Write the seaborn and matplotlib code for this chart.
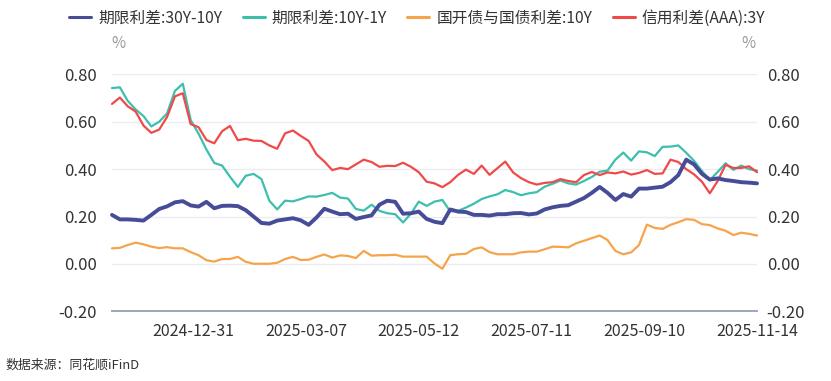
import numpy as np
import pandas as pd
import seaborn as sns
import matplotlib
matplotlib.use("Agg")
import matplotlib.pyplot as plt
from matplotlib.lines import Line2D

# ---- data (trading-day index, sampled every 3 trading days) ----
day_index = list(range(0, 247, 3))

spread_30y_10y = [
    0.207, 0.188, 0.188, 0.186, 0.183, 0.207, 0.232, 0.243, 0.260, 0.265,
    0.247, 0.242, 0.262, 0.235, 0.245, 0.246, 0.244, 0.227, 0.200, 0.173,
    0.170, 0.183, 0.188, 0.193, 0.184, 0.165, 0.196, 0.233, 0.221, 0.210,
    0.212, 0.190, 0.198, 0.205, 0.250, 0.267, 0.262, 0.212, 0.214, 0.221,
    0.190, 0.178, 0.172, 0.230, 0.221, 0.219, 0.207, 0.207, 0.204, 0.210,
    0.210, 0.214, 0.215, 0.209, 0.213, 0.230, 0.239, 0.245, 0.248, 0.263,
    0.278, 0.300, 0.325, 0.300, 0.270, 0.295, 0.284, 0.318, 0.318, 0.322,
    0.326, 0.345, 0.375, 0.440, 0.420, 0.380, 0.356, 0.361, 0.354, 0.350,
    0.345, 0.343, 0.340,
]

spread_10y_1y = [
    0.742, 0.745, 0.688, 0.652, 0.624, 0.580, 0.600, 0.635, 0.730, 0.760,
    0.607, 0.550, 0.483, 0.426, 0.415, 0.368, 0.325, 0.372, 0.380, 0.358,
    0.267, 0.230, 0.267, 0.264, 0.274, 0.285, 0.284, 0.291, 0.300, 0.280,
    0.276, 0.232, 0.225, 0.250, 0.224, 0.214, 0.210, 0.175, 0.212, 0.263,
    0.245, 0.263, 0.270, 0.222, 0.224, 0.238, 0.254, 0.274, 0.285, 0.294,
    0.312, 0.303, 0.290, 0.298, 0.303, 0.326, 0.338, 0.352, 0.340, 0.335,
    0.350, 0.367, 0.389, 0.394, 0.440, 0.470, 0.436, 0.475, 0.471, 0.455,
    0.494, 0.495, 0.500, 0.469, 0.435, 0.392, 0.354, 0.388, 0.425, 0.397,
    0.415, 0.400, 0.394,
]

cdb_vs_gov_10y = [
    0.066, 0.068, 0.080, 0.090, 0.083, 0.073, 0.067, 0.071, 0.066, 0.066,
    0.050, 0.037, 0.016, 0.010, 0.021, 0.021, 0.030, 0.009, 0.001, 0.001,
    0.001, 0.005, 0.021, 0.030, 0.017, 0.018, 0.030, 0.040, 0.027, 0.036,
    0.034, 0.025, 0.055, 0.035, 0.037, 0.037, 0.039, 0.031, 0.031, 0.031,
    0.031, 0.002, -0.020, 0.037, 0.041, 0.043, 0.063, 0.070, 0.050, 0.041,
    0.041, 0.041, 0.049, 0.052, 0.052, 0.062, 0.073, 0.072, 0.070, 0.087,
    0.098, 0.109, 0.120, 0.101, 0.055, 0.041, 0.049, 0.080, 0.166, 0.152,
    0.148, 0.165, 0.176, 0.189, 0.186, 0.168, 0.164, 0.150, 0.140, 0.122,
    0.132, 0.127, 0.120,
]

credit_aaa_3y = [
    0.675, 0.702, 0.665, 0.643, 0.584, 0.553, 0.567, 0.620, 0.707, 0.720,
    0.590, 0.577, 0.523, 0.509, 0.560, 0.582, 0.522, 0.528, 0.520, 0.519,
    0.500, 0.486, 0.551, 0.563, 0.540, 0.519, 0.462, 0.432, 0.396, 0.405,
    0.400, 0.420, 0.440, 0.430, 0.410, 0.414, 0.413, 0.427, 0.410, 0.387,
    0.347, 0.340, 0.324, 0.345, 0.376, 0.398, 0.380, 0.415, 0.376, 0.404,
    0.432, 0.386, 0.362, 0.345, 0.335, 0.342, 0.345, 0.358, 0.350, 0.345,
    0.375, 0.388, 0.375, 0.386, 0.382, 0.390, 0.377, 0.384, 0.396, 0.380,
    0.382, 0.440, 0.430, 0.400, 0.378, 0.347, 0.298, 0.350, 0.418, 0.405,
    0.405, 0.412, 0.387,
]

tick_days = [31, 74, 117, 160, 203, 246]
tick_labels = ["2024-12-31", "2025-03-07", "2025-05-12", "2025-07-11", "2025-09-10", "2025-11-14"]
y_ticks = [-0.2, 0.0, 0.2, 0.4, 0.6, 0.8]

series_names = ["期限利差:30Y-10Y", "期限利差:10Y-1Y", "国开债与国债利差:10Y", "信用利差(AAA):3Y"]
series_values = [spread_30y_10y, spread_10y_1y, cdb_vs_gov_10y, credit_aaa_3y]
series_colors = ["#474c99", "#3dbfae", "#f6a44c", "#ef4a4a"]
series_widths = [2.8, 1.6, 1.6, 1.6]

# ---- style ----
sns.set_theme(style="white")
plt.rcParams["font.family"] = ["Noto Sans CJK SC", "DejaVu Sans"]
plt.rcParams["axes.unicode_minus"] = False

fig = plt.figure(figsize=(8.31, 3.81), dpi=100)
ax = fig.add_axes([112 / 831, 1 - 311.4 / 381, (757 - 112) / 831, (311.4 - 74.3) / 381])

df = pd.DataFrame({"day": day_index})
for name, vals in zip(series_names, series_values):
    df[name] = vals

# draw order: orange, teal, red, navy on top
order = [2, 1, 3, 0]
for i in order:
    sns.lineplot(data=df, x="day", y=series_names[i], ax=ax, color=series_colors[i],
                 linewidth=series_widths[i], clip_on=False, zorder=3 + (i == 0))

ax.set_xlim(0, 246)
ax.set_ylim(-0.2, 0.8)
ax.set_yticks(y_ticks)
ax.set_yticklabels([f"{v:.2f}" for v in y_ticks])
ax.set_xticks(tick_days)
ax.set_xticklabels(tick_labels)
ax.set_xlabel("")
ax.set_ylabel("")
for y in y_ticks[1:]:
    ax.axhline(y, color="#ebebf3", linewidth=1.0, zorder=1)
for s in ["top", "right", "left"]:
    ax.spines[s].set_visible(False)
ax.spines["bottom"].set_color("#9aa6bd")
ax.spines["bottom"].set_linewidth(1.4)
ax.tick_params(axis="y", length=0, labelsize=12, colors="#333333", pad=11)
ax.tick_params(axis="x", length=0, labelsize=11.5, colors="#333333", pad=8)

ax2 = ax.twinx()
ax2.set_ylim(-0.2, 0.8)
ax2.set_yticks(y_ticks)
ax2.set_yticklabels([f"{v:.2f}" for v in y_ticks])
for s in ["top", "right", "left", "bottom"]:
    ax2.spines[s].set_visible(False)
ax2.tick_params(axis="y", length=0, labelsize=12, colors="#333333", pad=7)
ax2.grid(False)

fig.text(118 / 831, 1 - 43 / 381, "%", fontsize=11, color="#999999", ha="center", va="center")
fig.text(748 / 831, 1 - 43 / 381, "%", fontsize=11, color="#999999", ha="center", va="center")

handles = [Line2D([0], [0], color=series_colors[i], linewidth=2.2) for i in range(4)]
fig.legend(handles, series_names, loc="center", bbox_to_anchor=(0.502, 1 - 18 / 381), ncol=4,
           frameon=False, fontsize=11.3, handlelength=1.4, handletextpad=0.45, columnspacing=1.3,
           labelcolor="#333333")

fig.text(5 / 831, 1 - 365 / 381, "数据来源：同花顺iFinD", fontsize=9.3, color="#333333", ha="left", va="center")

fig.savefig("out.png", dpi=100)
